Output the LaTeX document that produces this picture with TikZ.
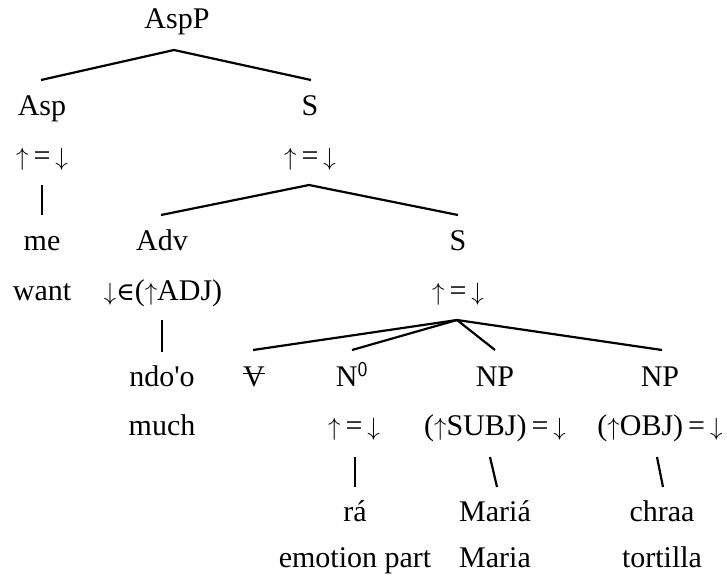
\documentclass[tikz,border=0pt]{standalone}
\usepackage{fontspec}
\setmainfont{Liberation Serif}[Ligatures=TeXOff]
\newfontfamily\symfont{DejaVu Serif}
\newcommand{\ua}{$\uparrow$}
\newcommand{\da}{$\downarrow$}
\newcommand{\eqarr}{\ua\,=\,\da}
\newcommand{\strikeV}{\rlap{\rule[0.4em]{0.74em}{1.3pt}}V}
\begin{document}
\begin{tikzpicture}[x=1pt,y=-1pt,
  lbl/.style={anchor=base,inner sep=0pt,font=\fontsize{30}{30}\selectfont},
  br/.style={line width=2.2pt,black}]
\useasboundingbox (0,0) rectangle (727,579);
\fill[white] (0,0) rectangle (727,579);
% nodes
\node[lbl] (AspP) at (177,28) {AspP};
\node[lbl] (Asp) at (42,115) {Asp};
\node[lbl] (S1) at (310,115) {S};
\node[lbl] (e1) at (42,165) {\eqarr};
\node[lbl] (e2) at (310,165) {\eqarr};
\node[lbl] (me) at (42,250) {me};
\node[lbl] (Adv) at (162,250) {Adv};
\node[lbl] (S2) at (458,250) {S};
\node[lbl] (want) at (42,300) {want};
\node[lbl] (adj) at (163,300) {\da{\symfont\fontsize{25}{25}\selectfont ∈}(\ua ADJ)};
\node[lbl] (e3) at (458,300) {\eqarr};
\node[lbl] (ndoo) at (162,386) {ndo'o};
\node[lbl] (V) at (254,386) {\strikeV};
\node[lbl] (N0) at (352,386) {N\textsuperscript{\sffamily 0}};
\node[lbl] (NP1) at (495,386) {NP};
\node[lbl] (NP2) at (660,386) {NP};
\node[lbl] (much) at (162,435) {much};
\node[lbl] (e4) at (354,435) {\eqarr};
\node[lbl] (subj) at (495,435) {(\ua SUBJ)\,=\,\da};
\node[lbl] (obj) at (660,435) {(\ua OBJ)\,=\,\da};
\node[lbl] (ra) at (355,521) {rá};
\node[lbl] (maria1) at (495,521) {Mariá};
\node[lbl] (chraa) at (662,521) {chraa};
\node[lbl] (emo) at (355,567) {emotion part};
\node[lbl] (maria2) at (495,567) {Maria};
\node[lbl] (tort) at (662,567) {tortilla};
% connectors
\draw[br] ([xshift=-1pt,yshift=35pt]Asp.base) -- ([xshift=-3pt,yshift=-22pt]AspP.base) -- ([xshift=1pt,yshift=35pt]S1.base);
\draw[br] ([yshift=-20pt]e1.base) -- ([yshift=35pt]me.base);
\draw[br] ([xshift=-1pt,yshift=35pt]Adv.base) -- ([xshift=-1pt,yshift=-20pt]e2.base) -- ([yshift=35pt]S2.base);
\draw[br] ([xshift=-1pt,yshift=-20pt]adj.base) -- ([yshift=34pt]ndoo.base);
\draw[br] ([xshift=-1pt,yshift=-20pt]e3.base) -- ([xshift=-1pt,yshift=36pt]V.base);
\draw[br] ([xshift=-1pt,yshift=-20pt]e3.base) -- ([yshift=36pt]N0.base);
\draw[br] ([xshift=-1pt,yshift=-20pt]e3.base) -- ([yshift=36pt]NP1.base);
\draw[br] ([xshift=-1pt,yshift=-20pt]e3.base) -- ([xshift=2pt,yshift=36pt]NP2.base);
\draw[br] ([xshift=1pt,yshift=-22pt]e4.base) -- ([yshift=34pt]ra.base);
\draw[br] ([xshift=-5pt,yshift=-22pt]subj.base) -- ([xshift=2pt,yshift=34pt]maria1.base);
\draw[br] ([xshift=-3pt,yshift=-22pt]obj.base) -- ([xshift=1pt,yshift=34pt]chraa.base);
\end{tikzpicture}
\end{document}
